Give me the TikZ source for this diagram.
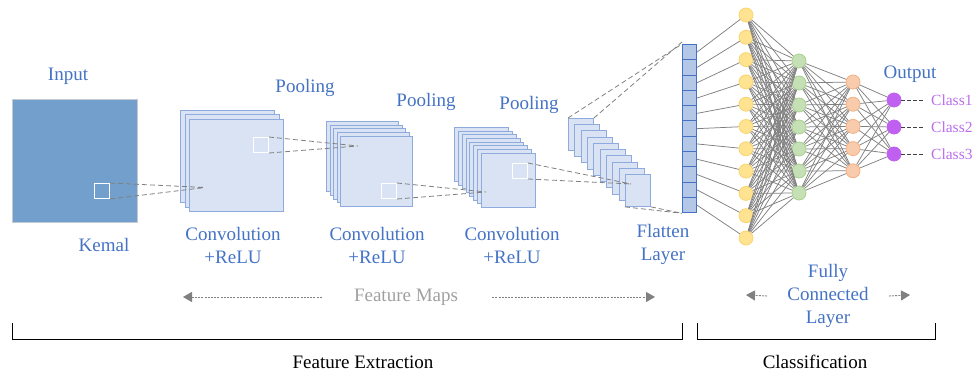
\documentclass[tikz,border=0pt]{standalone}
\usepackage{fontspec}
\setmainfont{Liberation Serif}
\usetikzlibrary{arrows.meta}

\definecolor{lblue}{RGB}{68,114,196}
\definecolor{inputfill}{RGB}{115,159,205}
\definecolor{inputline}{RGB}{195,202,212}
\definecolor{sheetfill}{RGB}{218,227,243}
\definecolor{sheetline}{RGB}{143,170,220}
\definecolor{flatfill}{RGB}{180,199,231}
\definecolor{yelfill}{RGB}{255,227,145}
\definecolor{yelline}{RGB}{250,212,110}
\definecolor{grnfill}{RGB}{197,224,180}
\definecolor{grnline}{RGB}{169,209,142}
\definecolor{orafill}{RGB}{248,203,173}
\definecolor{oraline}{RGB}{244,177,131}
\definecolor{purfill}{RGB}{192,96,240}
\definecolor{classtxt}{RGB}{185,110,235}
\definecolor{wire}{RGB}{128,128,128}
\definecolor{fmtxt}{RGB}{160,160,160}

\begin{document}
\begin{tikzpicture}[x=1pt,y=-1pt,
  lbl/.style={text=lblue, font=\fontsize{19}{23}\selectfont, align=center, inner sep=0},
  blk/.style={text=black, font=\fontsize{19}{23}\selectfont, inner sep=0},
  sheet/.style={draw=sheetline, fill=sheetfill, line width=0.9pt, inner sep=0, anchor=north west},
  kern/.style={draw=white, line width=1pt, inner sep=0, minimum size=15, anchor=north west},
  kline/.style={draw=wire, dashed, dash pattern=on 5pt off 3pt, line width=0.8pt},
  cell/.style={draw=lblue, fill=flatfill, line width=1pt, inner sep=0, minimum width=14, minimum height=15.3, anchor=north west},
  neuron/.style={circle, inner sep=0, minimum size=14, line width=0.8pt},
  conn/.style={draw=wire, line width=0.75pt},
  hint/.style={draw=wire, line width=0.9pt, dash pattern=on 2pt off 1.2pt, -{Triangle[length=9pt,width=10pt]}},
]
\useasboundingbox (0,0) rectangle (976,374);

% input image with its kernel window
\node[draw=inputline, fill=inputfill, line width=1pt, inner sep=0, anchor=north west,
      minimum width=125, minimum height=123] (inp) at (12,99) {};
\node[kern, fill=inputfill] (k0) at (94,183) {};

% convolution stacks, drawn from the back sheet to the front one
\foreach \i in {0,1,2}
  \node[sheet, minimum width=94, minimum height=92] (ca\i) at ({180+4.5*\i},{110+4.5*\i}) {};
\node[kern, fill=sheetfill] (k1) at (253,137) {};

\foreach \i in {0,...,4}
  \node[sheet, minimum width=72, minimum height=70] (cb\i) at ({326+3.5*\i},{121+3.75*\i}) {};
\node[kern, fill=sheetfill] (k2) at (381,183) {};

\foreach \i in {0,...,7}
  \node[sheet, minimum width=54, minimum height=54] (cc\i) at ({454+3.86*\i},{127+3.7*\i}) {};
\node[kern, fill=sheetfill] (k3) at (512,163) {};

\foreach \i in {0,...,9}
  \node[sheet, minimum width=25, minimum height=32] (pd\i) at ({568+6.33*\i},{118+6.22*\i}) {};

% receptive-field projections
\coordinate (t1) at (205,187.5);
\coordinate (t2) at (358,146);
\coordinate (t3) at (486,192);
\coordinate (t4) at (631,184);
\draw[kline] (k0.north east) -- (t1) (k0.south east) -- (t1);
\draw[kline] (k1.north east) -- (t2) (k1.south east) -- (t2);
\draw[kline] (k2.north east) -- (t3) (k2.south east) -- (t3);
\draw[kline] (k3.north east) -- (t4) (k3.south east) -- (t4);

% flatten layer
\foreach \i in {1,...,11}
  \node[cell] (f\i) at (682,{44+15.3*(\i-1)}) {};
\draw[kline] (pd0.north west) -- (f1.north west) (pd0.north east) -- ([yshift=2]f1.north west);
\draw[kline] (pd9.south west) -- (f11.south west) (pd9.south east) -- (f11.south west);

% fully connected layers
\foreach \i in {1,...,11}
  \node[neuron, fill=yelfill, draw=yelline] (y\i) at (746,{15+22.3*(\i-1)}) {};
\foreach \i in {1,...,7}
  \node[neuron, fill=grnfill, draw=grnline] (g\i) at (799,{61+22*(\i-1)}) {};
\foreach \i in {1,...,5}
  \node[neuron, fill=orafill, draw=oraline] (o\i) at (853,{82+22.2*(\i-1)}) {};
\foreach \i in {1,2,3}
  \node[neuron, fill=purfill, draw=purfill] (p\i) at (894,{100+27*(\i-1)}) {};

\foreach \i in {1,...,11}
  \draw[conn] (f\i.east) -- (y\i);
\foreach \i in {1,...,11}
  \foreach \j in {1,...,7}
    \draw[conn] (y\i) -- (g\j);
\foreach \i in {1,...,7}
  \foreach \j in {1,...,5}
    \draw[conn] (g\i) -- (o\j);
\foreach \i in {1,...,5}
  \foreach \j in {1,2,3}
    \draw[conn] (o\i) -- (p\j);

% output classes
\foreach \i in {1,2,3} {
  \node[text=classtxt, font=\fontsize{15.5}{18}\selectfont, inner sep=0, anchor=west]
    (cl\i) at (931,{100+27*(\i-1)}) {Class\i};
  \draw[draw=black!75, line width=0.8pt, dash pattern=on 4pt off 2pt] (p\i.east) -- ([xshift=-6]cl\i.west);
}

% labels
\node[lbl] (linput) at (68,76) {Input};
\node[lbl] (lkern) at (104,245) {Kemal};
\node[lbl] (lpool1) at (305,88) {Pooling};
\node[lbl] (lpool2) at (426,102) {Pooling};
\node[lbl] (lpool3) at (529,105) {Pooling};
\node[lbl] (lconv1) at (233,245.5) {Convolution\\+ReLU};
\node[lbl] (lconv2) at (377,245.5) {Convolution\\+ReLU};
\node[lbl] (lconv3) at (512,245.5) {Convolution\\+ReLU};
\node[lbl] (lflat) at (663,244.5) {Flatten\\Layer};
\node[lbl] (lout) at (910,74) {Output};
\node[lbl] (lfc) at (828,296) {Fully\\Connected\\Layer};

% feature-map hint arrows
\node[text=fmtxt, font=\fontsize{19}{23}\selectfont, inner sep=0] (fm) at (406,297) {Feature Maps};
\coordinate (fmL) at (183,297);
\coordinate (fmR) at (655,297);
\draw[hint] ([xshift=-32]fm.west) -- (fmL);
\draw[hint] ([xshift=34]fm.east) -- (fmR);
\coordinate (fcL) at (746,295);
\coordinate (fcR) at (910,295);
\draw[hint] ([xshift=-20]lfc.west) -- (fcL);
\draw[hint] ([xshift=20]lfc.east) -- (fcR);

% section brackets
\coordinate (bxa) at (12,323);
\coordinate (bxb) at (682,323);
\coordinate (bca) at (697,323);
\coordinate (bcb) at (935,323);
\draw[line width=0.9pt] (bxa) -- ++(0,16) -| (bxb);
\draw[line width=0.9pt] (bca) -- ++(0,16) -| (bcb);
\node[blk] (lfe) at (363,362) {Feature Extraction};
\node[blk] (lcls) at (815,362) {Classification};
\end{tikzpicture}
\end{document}
